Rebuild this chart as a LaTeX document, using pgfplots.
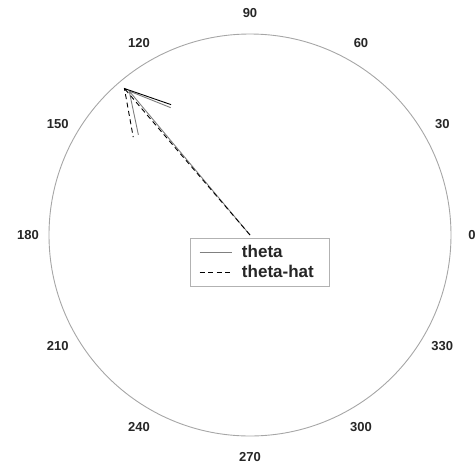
\documentclass[border=0pt]{standalone}
\usepackage{pgfplots}
\pgfplotsset{compat=1.18}
\usepgfplotslibrary{polar}
\usepackage{fontspec}
\setmainfont{Liberation Sans}
\begin{document}
\begin{tikzpicture}
\path[use as bounding box] (-250pt,-231pt) rectangle (226pt,235pt);
\begin{polaraxis}[
  at={(0,0)}, anchor=center,
  scale only axis, width=402pt, height=402pt,
  xmin=0, xmax=360, ymin=0, ymax=1,
  xtick={0,30,...,330},
  xticklabels={0,30,60,90,120,150,180,210,240,270,300,330},
  ytick=\empty,
  major tick length=0pt,
  xticklabel style={font=\fontsize{13}{15}\selectfont\bfseries, text=black!85,
    anchor=center, inner sep=0pt, shift={(\tick:21pt)}},
  separate axis lines,
  x axis line style={gray!70, line width=0.9pt},
  y axis line style={draw=none},
  grid=none,
  clip=false,
  legend style={at={(0.35,0.4925)}, anchor=north west, draw=gray!60, line width=0.8pt,
    font=\fontsize{17}{19}\selectfont\bfseries, text=black!85,
    inner xsep=9pt, inner ysep=5pt, row sep=2pt, cells={anchor=west},
    /tikz/every odd column/.append style={column sep=8pt},
    /tikz/every even column/.append style={text width=76pt}},
  legend image code/.code={\draw[#1] (0pt,0pt) -- (32pt,0pt);},
  legend cell align=left,
]
\addplot[data cs=cart, gray, line width=0.9pt] coordinates {
  (0,0) (-0.6010,0.7162) (-0.3946,0.6336) (-0.6010,0.7162) (-0.5554,0.4986)
};
\addlegendentry{theta}
\addplot[data cs=cart, black, line width=0.9pt, dash pattern=on 5pt off 3.5pt] coordinates {
  (0,0) (-0.6248,0.7289) (-0.3926,0.6486) (-0.6248,0.7289) (-0.5810,0.4872)
};
\addlegendentry{theta-hat}
\end{polaraxis}
\end{tikzpicture}
\end{document}
